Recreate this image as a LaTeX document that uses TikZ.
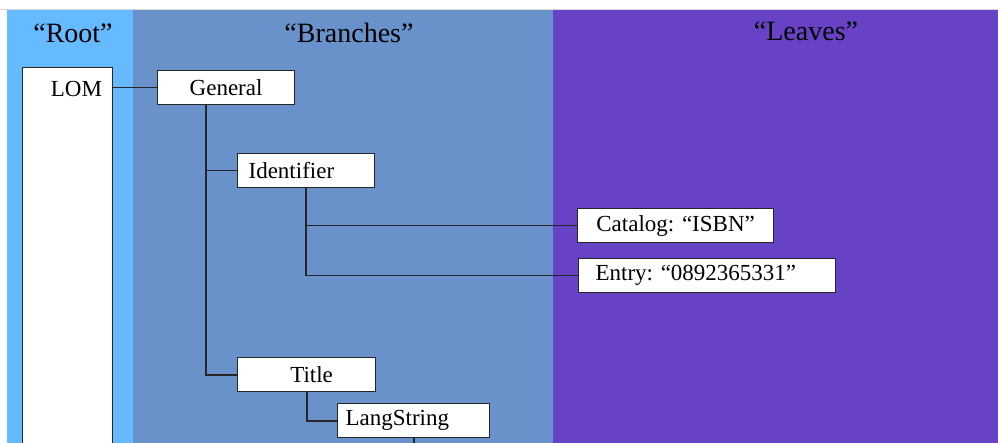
\documentclass[tikz,border=0pt]{standalone}
\usepackage{fontspec}
\setmainfont{Liberation Serif}
\frenchspacing
\definecolor{rootband}{RGB}{102,186,255}
\definecolor{branchband}{RGB}{104,146,201}
\definecolor{leafband}{RGB}{104,66,196}

\begin{document}
\begin{tikzpicture}[
    x = 1pt,
    y = -1pt,
    elem/.style = {draw=black!85, fill=white, line width=1.2pt, inner ysep=0pt,
      minimum height=34pt, anchor=north west, font=\fontsize{23}{26}\selectfont},
    head/.style = {font=\fontsize{28}{32}\selectfont},
    link/.style = {line width=1.8pt, black!85},
    ]
    \useasboundingbox (0,0) rectangle (998,443);
    % bands
    \fill[rootband] (7,10) rectangle (133,443);
    \fill[branchband] (133,10) rectangle (553,443);
    \fill[leafband] (553,10) rectangle (998,443);
    \draw[gray!30] (0,9.5) -- (998,9.5);
    \node[head] (roothead) at (73,33) {“Root”};
    \node[head] (branchhead) at (349,33) {“Branches”};
    \node[head] (leafhead) at (806,31) {“Leaves”};
    % root
    \node[elem, minimum width=90pt, minimum height=385pt] (lom) at (22,67) {};
    \node[font=\fontsize{23}{26}\selectfont, anchor=east, inner sep=0pt]
    (lomtext) at ([xshift=-11pt, yshift=-22pt]lom.north east) {LOM};
    % branches
    \node[elem, inner xsep=0pt, text width=137pt, align=center] (general) at (157,70) {General};
    \node[elem, inner xsep=11pt, text width=115pt, align=left] (ident) at (237,153) {Identifier};
    \node[elem, inner xsep=0pt, text width=138pt, align=center] (title) at (237,357) {\hspace*{10pt}Title};
    \node[elem, inner xsep=8pt, text width=136pt, align=left] (lang) at (337,403) {LangString};
    % leaves
    \node[elem, inner xsep=0pt, text width=196pt, align=center] (catalog) at (577,208) {Catalog: “ISBN”};
    \node[elem, inner xsep=17pt, text width=223pt, align=left] (entry) at (578,258) {Entry: “0892365331”};
    % links
    \coordinate (gtrunk) at ([xshift=49pt]general.south west);
    \coordinate (bottom) at (0,450);
    \draw[link] (lom.east |- general.west) -- (general.west);
    \draw[link] (gtrunk) |- (title.west);
    \draw[link] (gtrunk |- ident.west) -- (ident.west);
    \draw[link] (ident.south) |- (entry.west);
    \draw[link] (ident.south |- catalog.west) -- (catalog.west);
    \draw[link] (title.south) |- (lang.west);
    \draw[link] (lang.south) -- (lang.south |- bottom);
  \end{tikzpicture}
\end{document}
